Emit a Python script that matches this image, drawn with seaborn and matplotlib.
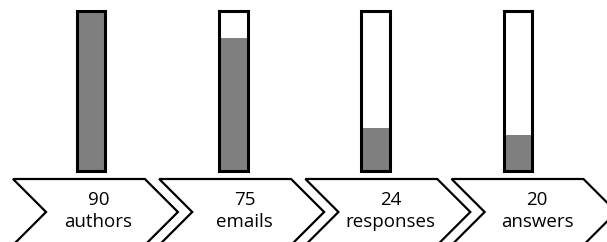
import matplotlib
matplotlib.use("Agg")
import numpy as np
import pandas as pd
import seaborn as sns
import matplotlib.pyplot as plt
from matplotlib.patches import Polygon

# data
stages = ["authors", "emails", "responses", "answers"]
counts = [90, 75, 24, 20]
total = 90

df = pd.DataFrame({"stage": stages, "count": counts, "total": [total] * len(stages)})

sns.set_theme(style="white")
plt.rcParams["font.family"] = ["Open Sans", "DejaVu Sans"]

fig = plt.figure(figsize=(6.07, 2.42), dpi=100)

# bars: white tube with grey fill
ax = fig.add_axes([0, 0, 1, 1])
sns.barplot(data=df, x="stage", y="total", color="white", width=0.2,
            saturation=1, linewidth=0, ax=ax)
sns.barplot(data=df, x="stage", y="count", color="#7f7f7f", width=0.2,
            saturation=1, linewidth=0, ax=ax)
sns.barplot(data=df, x="stage", y="total", fill=False, edgecolor="black",
            width=0.2, linewidth=2.2, ax=ax)
ax.set_xlim(-0.64, 3.626)
ax.set_ylim(-39.9, 96.2)
ax.set_axis_off()

# chevrons underneath
cax = fig.add_axes([0, 0, 1, 1])
cax.set_xlim(-0.653, 3.499)
cax.set_ylim(242, 0)
cax.set_axis_off()
cax.patch.set_alpha(0)

half = 0.564
depth = 0.226
for i, (s, c) in enumerate(zip(stages, counts)):
    pts = [(i - half, 179), (i + half - depth, 179), (i + half, 212),
           (i + half - depth, 245), (i - half, 245), (i - half + depth, 212)]
    cax.add_patch(Polygon(pts, closed=True, facecolor="white",
                          edgecolor="black", linewidth=1.6, clip_on=False))
    cax.text(i + 0.02, 200, str(c), ha="center", va="center", fontsize=13.5,
             color="black")
    cax.text(i + 0.02, 222, s, ha="center", va="center", fontsize=13.5,
             color="black")

fig.savefig("out.png", dpi=100)
